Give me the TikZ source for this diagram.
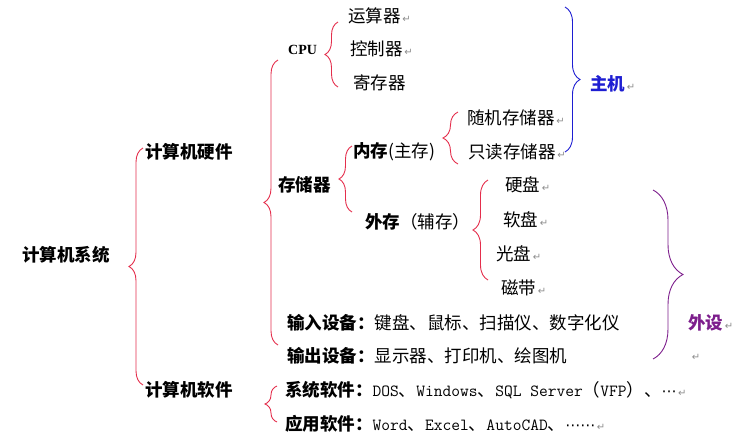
\documentclass[tikz,border=0pt]{standalone}
\usepackage{fontspec}
\setmainfont{Noto Sans CJK SC}
\newfontfamily\monofont{Latin Modern Mono}
\newfontfamily\serifbold{Liberation Serif}
\newfontfamily\symfont{DejaVu Sans}
\usetikzlibrary{decorations.pathreplacing}
\definecolor{bracered}{RGB}{228,46,76}
\definecolor{hostblue}{RGB}{30,30,210}
\definecolor{periphpurple}{RGB}{125,30,140}
\definecolor{markgray}{RGB}{140,140,140}
\newcommand{\wordret}{{\symfont\fontsize{10}{10}\selectfont\color{markgray}\,↵}}
\newcommand{\mono}[1]{{\monofont\fontsize{17}{18}\selectfont #1}}
\newcommand{\middots}{{\symfont\fontsize{15}{18}\selectfont ⋯}}
\begin{document}
\begin{tikzpicture}[x=1pt, y=-1pt, every node/.style={anchor=west, inner sep=0pt, font=\fontsize{17.5}{20}\selectfont}, head/.style={font=\fontsize{17.5}{20}\selectfont\bfseries}, brace/.style={decorate, decoration={brace, amplitude=#1}, line width=0.9pt}]
        \useasboundingbox (0,0) rectangle (732,440);
        \node[head] (sys) at (22,255) {计算机系统};
        \node[head] (hw) at (145,152) {计算机硬件};
        \node[head] (sw) at (145,390) {计算机软件};
        \node (cpu) at (288,50) {\serifbold\fontsize{14}{16}\selectfont\bfseries CPU};
        \node (alu) at (348,16) {运算器\wordret};
        \node (ctl) at (350,49) {控制器\wordret};
        \node (reg) at (353,83) {寄存器};
        \node[head] (mem) at (278,185) {存储器};
        \node (inner) at (353,152) {\textbf{内存}(主存)};
        \node (outer) at (365,222) {\textbf{外存}（辅存）};
        \node (ram) at (467,118) {随机存储器\wordret};
        \node (rom) at (468,152) {只读存储器\wordret};
        \node (hd) at (505,185) {硬盘\wordret};
        \node (fd) at (503,220) {软盘\wordret};
        \node (cd) at (496,254) {光盘\wordret};
        \node (tape) at (501,288) {磁带\wordret};
        \node[head, text=hostblue] (host) at (590,84) {主机\textmd{\wordret}};
        \node (input) at (287,323) {\textbf{输入设备：}键盘、鼠标、扫描仪、数字化仪};
        \node (output) at (287,356) {\textbf{输出设备：}显示器、打印机、绘图机};
        \node[head, text=periphpurple] (periph) at (688,323) {外设\textmd{\wordret}};
        \node (blank) at (690,357) {\wordret};
        \node (syssw) at (285,390) {\textbf{系统软件：}\mono{DOS}、\mono{Windows}、\mono{SQL Server}（\mono{VFP}）、\middots\wordret};
        \node (appsw) at (285,424) {\textbf{应用软件：}\mono{Word}、\mono{Excel}、\mono{AutoCAD}、\middots\middots\wordret};
        \draw[brace=14pt, bracered] (143,385) -- (143,148);
        \draw[brace=14pt, bracered] (278,345) -- (278,60);
        \draw[brace=13pt, bracered] (338,87) -- (338,22);
        \draw[brace=13pt, bracered] (352,212) -- (352,146);
        \draw[brace=15pt, bracered] (458,164) -- (458,112);
        \draw[brace=15pt, bracered] (488,280) -- (488,180);
        \draw[brace=12pt, bracered] (277,422) -- (277,386);
        \draw[brace=15pt, hostblue] (565,7) -- (565,152);
        \draw[brace=30pt, periphpurple] (653,190) -- (653,359);
    \end{tikzpicture}
\end{document}
